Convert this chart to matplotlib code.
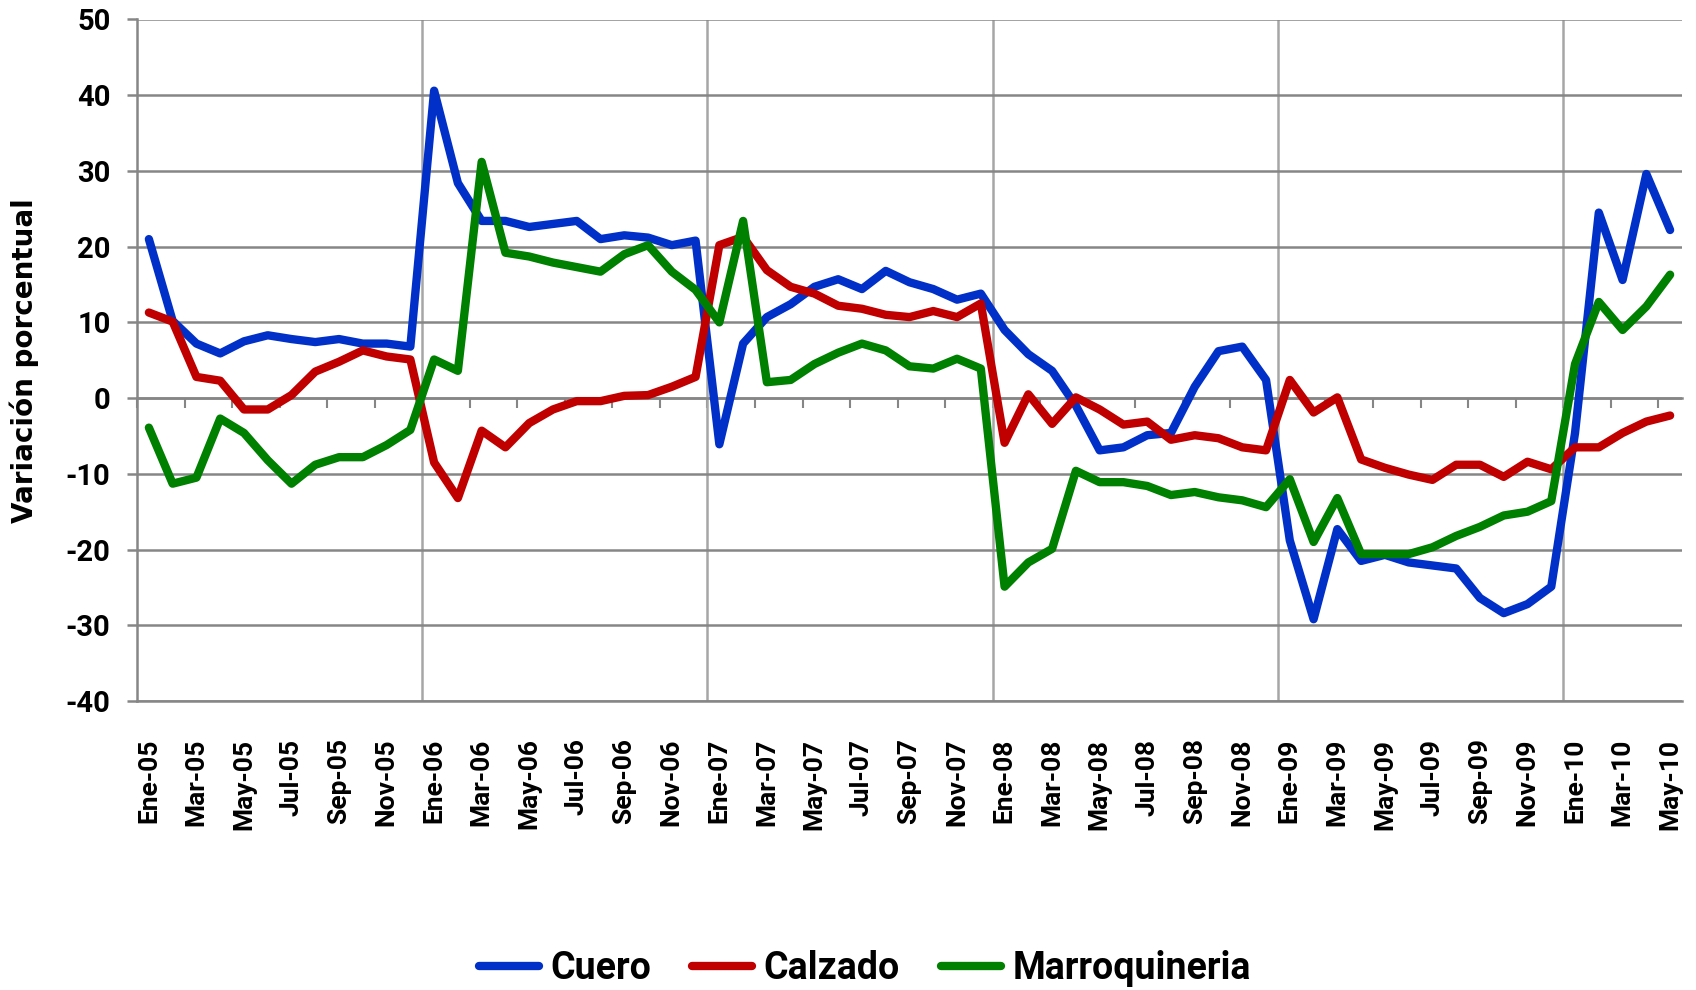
import matplotlib.pyplot as plt
import numpy as np

meses = ['Ene', 'Feb', 'Mar', 'Abr', 'May', 'Jun', 'Jul', 'Ago', 'Sep', 'Oct', 'Nov', 'Dic']
anios = ['05', '06', '07', '08', '09', '10']
fechas = [m + '-' + a for a in anios for m in meses][:65]

cuero = [21.0, 10.2, 7.2, 5.9, 7.5, 8.3, 7.8, 7.4, 7.8, 7.2, 7.2, 6.8,
         40.6, 28.4, 23.4, 23.4, 22.6, 23.0, 23.4, 21.0, 21.5, 21.2, 20.2, 20.8,
         -6.1, 7.2, 10.7, 12.4, 14.7, 15.7, 14.4, 16.8, 15.3, 14.4, 13.0, 13.8,
         9.0, 5.8, 3.6, -1.0, -6.9, -6.5, -4.9, -4.6, 1.5, 6.2, 6.8, 2.4,
         -18.8, -29.2, -17.3, -21.5, -20.7, -21.7, -22.1, -22.5, -26.4, -28.4, -27.2, -24.9,
         -4.6, 24.5, 15.6, 29.6, 22.2]
calzado = [11.3, 10.1, 2.8, 2.3, -1.5, -1.5, 0.4, 3.5, 4.8, 6.3, 5.5, 5.1,
           -8.5, -13.2, -4.3, -6.5, -3.3, -1.5, -0.4, -0.4, 0.3, 0.4, 1.5, 2.8,
           20.2, 21.3, 16.9, 14.7, 13.8, 12.2, 11.8, 11.0, 10.7, 11.5, 10.7, 12.5,
           -5.9, 0.5, -3.4, 0.1, -1.5, -3.5, -3.1, -5.5, -4.9, -5.3, -6.5, -6.9,
           2.4, -1.9, 0.1, -8.1, -9.2, -10.1, -10.8, -8.8, -8.8, -10.4, -8.4, -9.4,
           -6.5, -6.5, -4.6, -3.1, -2.3]
marroquineria = [-3.9, -11.3, -10.5, -2.7, -4.6, -8.2, -11.3, -8.8, -7.8, -7.8, -6.2, -4.2,
                 5.1, 3.6, 31.2, 19.2, 18.7, 17.9, 17.3, 16.7, 19.0, 20.2, 16.7, 14.3,
                 10.0, 23.4, 2.1, 2.4, 4.5, 6.0, 7.2, 6.3, 4.2, 3.9, 5.2, 3.9,
                 -24.9, -21.7, -19.9, -9.6, -11.1, -11.1, -11.6, -12.8, -12.4, -13.1, -13.5, -14.4,
                 -10.7, -19.0, -13.2, -20.6, -20.6, -20.6, -19.7, -18.2, -17.0, -15.5, -15.0, -13.6,
                 4.5, 12.7, 9.0, 12.1, 16.3]

plt.rcParams['axes.unicode_minus'] = False
narrow = ['Roboto', 'DejaVu Sans']
gris = '#868686'

fig = plt.figure(figsize=(16.96, 9.90), dpi=100)
ax = fig.add_axes([137/1696, 1-701/990, (1682-137)/1696, (701-19.5)/990])

x = np.arange(len(fechas))
ax.plot(x, cuero, color='#0030C8', lw=6, label='Cuero', solid_capstyle='round', solid_joinstyle='round')
ax.plot(x, calzado, color='#C00000', lw=6, label='Calzado', solid_capstyle='round', solid_joinstyle='round')
ax.plot(x, marroquineria, color='#008000', lw=6, label='Marroquineria', solid_capstyle='round', solid_joinstyle='round')

ax.set_xlim(-0.5, len(fechas) - 0.5)
ax.set_ylim(-40, 50)

# y axis
ax.set_yticks(range(-40, 51, 10))
ax.yaxis.grid(True, color=gris, lw=1.8)
ax.tick_params(axis='y', length=7, width=1.8, color=gris, pad=12)
for t in ax.get_yticklabels():
    t.set_family(narrow)
    t.set_fontweight('bold')
    t.set_fontsize(21)

# x axis: labels every 2 months, gridlines every year
ax.set_xticks(x[::2])
ax.set_xticklabels(fechas[::2], rotation=90, fontsize=19, fontweight='bold', family=narrow)
ax.tick_params(axis='x', which='major', length=0, pad=27)
ax.set_xticks(np.arange(11.5, len(fechas), 12), minor=True)
ax.tick_params(axis='x', which='minor', length=0)
ax.xaxis.grid(True, which='minor', color='#A6A6A6', lw=1.8)
ax.set_axisbelow(True)

for s in ['top', 'right']:
    ax.spines[s].set_visible(False)
for s in ['left', 'bottom']:
    ax.spines[s].set_color(gris)
    ax.spines[s].set_linewidth(1.8)

# category axis crossing at 0
eje0 = ax.secondary_xaxis(40/90)
eje0.set_xticks(np.arange(-0.5, len(fechas), 2))
eje0.tick_params(length=7, width=1.5, color=gris, labelbottom=False, labeltop=False)
for s in eje0.spines.values():
    s.set_color(gris)
    s.set_linewidth(1.8)

fig.text(24/1696, 0.636, 'Variación porcentual', rotation=90, ha='center', va='center',
         fontsize=20, fontweight='bold')

fig.legend(loc='center', bbox_to_anchor=(0.51, 0.022), ncol=3, frameon=False,
           prop={'family': narrow, 'weight': 'bold', 'size': 27},
           handlelength=1.6, handletextpad=0.3, columnspacing=1.1)

fig.savefig('out.png', dpi=100)
